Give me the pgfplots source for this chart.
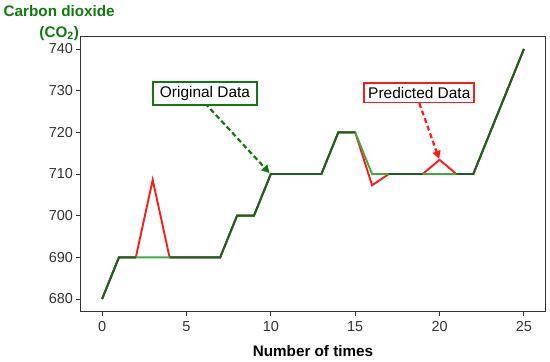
\documentclass[border=0pt]{standalone}
\usepackage{pgfplots}
\pgfplotsset{compat=1.18}
\usetikzlibrary{arrows.meta}
\usepackage{fontspec}
\setmainfont{Liberation Sans}
\definecolor{dgreen}{HTML}{1B5E20}
\definecolor{lgreen}{HTML}{3DAA3D}
\definecolor{lblgreen}{HTML}{0E7A0E}
\definecolor{predred}{HTML}{FF1A1A}
\definecolor{axgray}{HTML}{333333}
\begin{document}
\begin{tikzpicture}
\path[use as bounding box] (-81bp,-50.5bp) rectangle (469bp,311.5bp);
\begin{axis}[
  at={(0,0)}, anchor=south west,
  scale only axis, width=464bp, height=275bp,
  xmin=-1.25, xmax=26.25, ymin=677, ymax=743,
  xtick={0,5,10,15,20,25},
  ytick={680,690,700,710,720,730,740},
  tick align=outside, tick pos=lower,
  major tick length=4.5bp,
  axis line style={axgray, line width=1bp},
  every tick/.style={axgray, line width=0.9bp},
  tick label style={font=\fontsize{14.5}{16}\selectfont, text=axgray},
  xticklabel style={yshift=-2bp},
  /pgf/number format/assume math mode=true,
  xlabel={\textbf{Number of times}},
  xlabel style={font=\fontsize{15.3}{17}\selectfont, yshift=-7bp},
  ylabel={\textbf{Carbon dioxide}\\\textbf{(CO\textsubscript{2})}},
  ylabel style={at={(rel axis cs:-0.047,1.049)}, rotate=-90, anchor=center, align=center,
    font=\fontsize{15.3}{21}\selectfont, text=lblgreen},
  unbounded coords=jump,
  clip=false,
]
% predicted (red)
\addplot[predred, line width=1.9bp, forget plot] coordinates {
(0,680) (1,690) (2,690) (3,708.6) (4,690) (5,690) (6,690) (7,690) (8,700) (9,700)
(10,710) (11,710) (12,710) (13,710) (14,720) (15,720) (16,707.3) (17,710) (18,710)
(19,710) (20,713.4) (21,710) (22,710) (23,720) (24,730) (25,740)};
% original (light green)
\addplot[lgreen, line width=1.9bp, forget plot] coordinates {
(0,680) (1,690) (2,690) (3,690) (4,690) (5,690) (6,690) (7,690) (8,700) (9,700)
(10,710) (11,710) (12,710) (13,710) (14,720) (15,720) (16,710) (17,710) (18,710)
(19,710) (20,710) (21,710) (22,710) (23,720) (24,730) (25,740)};
% coinciding segments (dark green)
\addplot[dgreen, line width=1.9bp, forget plot] coordinates {
(0,680) (1,690) (2,690) (3,nan) (4,690) (5,690) (6,690) (7,690) (8,700) (9,700)
(10,710) (11,710) (12,710) (13,710) (14,720) (15,720) (16,nan) (17,710) (18,710)
(19,710) (20,nan) (21,710) (22,710) (23,720) (24,730) (25,740)};
% annotations
\draw[lblgreen, line width=2.2bp, dash pattern=on 5bp off 3bp, -{Triangle[length=8bp,width=8bp]}] (axis cs:6.1,727) -- (axis cs:9.93,710.2);
\node[draw=lblgreen, line width=1.8bp, fill=white, inner xsep=7bp, inner ysep=4bp, font=\fontsize{15.5}{17}\selectfont]
  (orig) at (axis cs:6.1,729.3) {Original Data};
\draw[predred, line width=2.2bp, dash pattern=on 5bp off 3bp, -{Triangle[length=8bp,width=8bp]}] (axis cs:18.8,727) -- (axis cs:19.98,713.6);
\node[draw=predred, line width=1.8bp, fill=white, inner xsep=4bp, inner ysep=4bp, font=\fontsize{15.5}{17}\selectfont]
  (pred) at (axis cs:18.8,729.5) {Predicted Data};
\end{axis}
\end{tikzpicture}
\end{document}
